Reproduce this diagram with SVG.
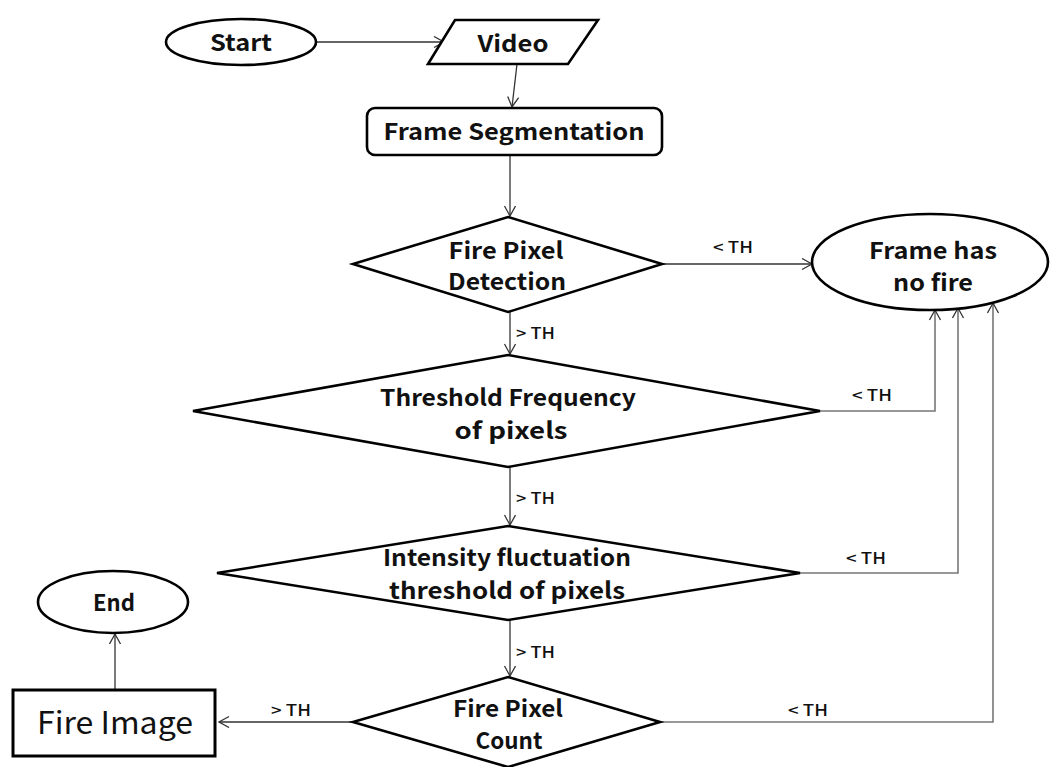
<svg xmlns="http://www.w3.org/2000/svg" width="1054" height="767" viewBox="0 0 1054 767">
  <defs>
    <marker id="arrow" markerUnits="userSpaceOnUse" markerWidth="14" markerHeight="14" refX="11" refY="6" orient="auto">
      <path d="M1,0.5 L11,6 L1,11.5" fill="none" stroke="#333" stroke-width="1.3"/>
    </marker>
    <style>
      .shape { fill: #fff; stroke: #000; stroke-width: 2.6; }
      .lbl { font-family: "Noto Sans CJK KR", "Liberation Sans", sans-serif; font-weight: bold; font-size: 23px; fill: #111; text-anchor: middle; }
      .th { font-family: "Noto Sans CJK KR", "Liberation Sans", sans-serif; font-weight: 500; font-size: 16px; fill: #111; }
      .conn { fill: none; stroke: #333; stroke-width: 1.3; }
      .back { fill: none; stroke: #777; stroke-width: 1.6; }
    </style>
  </defs>
  <rect width="1054" height="767" fill="#fff"/>

  <g id="connectors">
    <line class="conn" x1="316" y1="42" x2="444" y2="42" marker-end="url(#arrow)"/>
    <line class="conn" x1="517" y1="64" x2="512" y2="107" marker-end="url(#arrow)"/>
    <line class="conn" x1="510" y1="156" x2="510" y2="216" marker-end="url(#arrow)"/>
    <line class="conn" x1="662" y1="264" x2="812" y2="264" marker-end="url(#arrow)"/>
    <line class="conn" x1="510" y1="312" x2="510" y2="354" marker-end="url(#arrow)"/>
    <line class="conn" x1="510" y1="467" x2="510" y2="525" marker-end="url(#arrow)"/>
    <line class="conn" x1="510" y1="620" x2="510" y2="676" marker-end="url(#arrow)"/>
    <line class="conn" x1="353" y1="722" x2="219" y2="722" marker-end="url(#arrow)"/>
    <line class="conn" x1="115" y1="689" x2="115" y2="634" marker-end="url(#arrow)"/>
    <polyline class="back" points="820,411 935,411 935,310" marker-end="url(#arrow)"/>
    <polyline class="back" points="800,573 958,573 958,308" marker-end="url(#arrow)"/>
    <polyline class="back" points="660,722 993,722 993,303" marker-end="url(#arrow)"/>
    <text class="th" x="713" y="253" textLength="40" lengthAdjust="spacingAndGlyphs">&lt; TH</text>
    <text class="th" x="516" y="339" textLength="39" lengthAdjust="spacingAndGlyphs">&gt; TH</text>
    <text class="th" x="852" y="401" textLength="40" lengthAdjust="spacingAndGlyphs">&lt; TH</text>
    <text class="th" x="516" y="504" textLength="39" lengthAdjust="spacingAndGlyphs">&gt; TH</text>
    <text class="th" x="846" y="564" textLength="40" lengthAdjust="spacingAndGlyphs">&lt; TH</text>
    <text class="th" x="516" y="658" textLength="39" lengthAdjust="spacingAndGlyphs">&gt; TH</text>
    <text class="th" x="788" y="716" textLength="40" lengthAdjust="spacingAndGlyphs">&lt; TH</text>
    <text class="th" x="271" y="716" textLength="40" lengthAdjust="spacingAndGlyphs">&gt; TH</text>
  </g>

  <g id="start">
    <ellipse class="shape" cx="241" cy="42" rx="75" ry="23"/>
    <text class="lbl" x="241" y="51" textLength="62" lengthAdjust="spacingAndGlyphs">Start</text>
  </g>

  <g id="video">
    <polygon class="shape" points="455,20 598,20 568,64 428,64"/>
    <text class="lbl" x="513" y="52" textLength="71" lengthAdjust="spacingAndGlyphs">Video</text>
  </g>

  <g id="frame-segmentation">
    <rect class="shape" x="367" y="108" width="295" height="47" rx="8"/>
    <text class="lbl" x="514" y="140" textLength="261" lengthAdjust="spacingAndGlyphs">Frame Segmentation</text>
  </g>

  <g id="fire-pixel-detection">
    <polygon class="shape" points="508,217 662,264 508,312 353,264"/>
    <text class="lbl" x="506" y="259" textLength="115" lengthAdjust="spacingAndGlyphs">Fire Pixel</text>
    <text class="lbl" x="507" y="290" textLength="118" lengthAdjust="spacingAndGlyphs">Detection</text>
  </g>

  <g id="no-fire">
    <ellipse class="shape" cx="930" cy="262" rx="118" ry="48"/>
    <text class="lbl" x="933" y="259" textLength="128" lengthAdjust="spacingAndGlyphs">Frame has</text>
    <text class="lbl" x="933" y="291" textLength="80" lengthAdjust="spacingAndGlyphs">no fire</text>
  </g>

  <g id="threshold-frequency">
    <polygon class="shape" points="508,355 820,411 508,467 193,411"/>
    <text class="lbl" x="508" y="406" textLength="256" lengthAdjust="spacingAndGlyphs">Threshold Frequency</text>
    <text class="lbl" x="511" y="439" textLength="113" lengthAdjust="spacingAndGlyphs">of pixels</text>
  </g>

  <g id="intensity-fluctuation">
    <polygon class="shape" points="508,526 800,573 508,620 217,573"/>
    <text class="lbl" x="507" y="566" textLength="248" lengthAdjust="spacingAndGlyphs">Intensity fluctuation</text>
    <text class="lbl" x="507" y="599" textLength="236" lengthAdjust="spacingAndGlyphs">threshold of pixels</text>
  </g>

  <g id="fire-pixel-count">
    <polygon class="shape" points="508,677 660,722 508,767 353,722"/>
    <text class="lbl" x="508" y="717" textLength="110" lengthAdjust="spacingAndGlyphs">Fire Pixel</text>
    <text class="lbl" x="509" y="749" textLength="67" lengthAdjust="spacingAndGlyphs">Count</text>
  </g>

  <g id="fire-image">
    <rect x="13" y="690" width="202" height="66" fill="#fff" stroke="#000" stroke-width="3"/>
    <text x="115" y="734" font-family="Noto Sans CJK KR, Liberation Sans, sans-serif" font-size="31" fill="#111" text-anchor="middle" textLength="156" lengthAdjust="spacingAndGlyphs">Fire Image</text>
  </g>

  <g id="end">
    <ellipse class="shape" cx="113" cy="602" rx="75" ry="31"/>
    <text class="lbl" x="114" y="611" textLength="42" lengthAdjust="spacingAndGlyphs">End</text>
  </g>
</svg>
